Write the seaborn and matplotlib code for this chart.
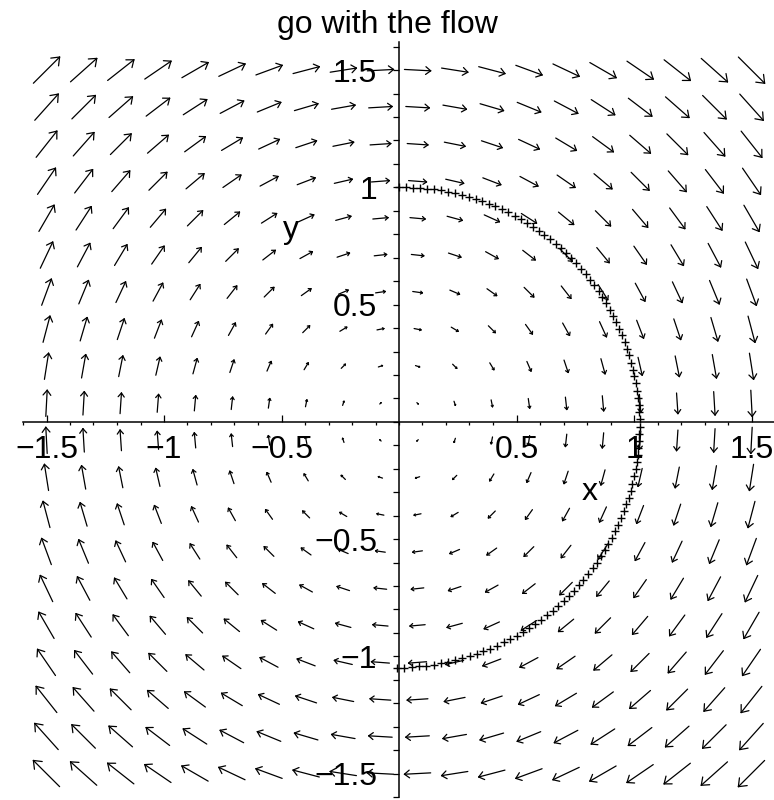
import numpy as np
import matplotlib
matplotlib.use("Agg")
import matplotlib.pyplot as plt
from matplotlib.collections import LineCollection
from matplotlib.ticker import FixedLocator, MultipleLocator
import seaborn as sns

sns.set_theme(style="white")
plt.rcParams["font.family"] = ["Liberation Sans", "DejaVu Sans"]
plt.rcParams["axes.unicode_minus"] = True

# sample points of the direction field (same spacing on both axes)
grid_x = [-1.5, -1.342, -1.184, -1.026, -0.868, -0.711, -0.553, -0.395, -0.237, -0.079,
          0.079, 0.237, 0.395, 0.553, 0.711, 0.868, 1.026, 1.184, 1.342, 1.5]
grid_y = [-1.5, -1.342, -1.184, -1.026, -0.868, -0.711, -0.553, -0.395, -0.237, -0.079,
          0.079, 0.237, 0.395, 0.553, 0.711, 0.868, 1.026, 1.184, 1.342, 1.5]

# horizontal component for each row, vertical component for each column
field_u_rows = [-1.5, -1.342, -1.184, -1.026, -0.868, -0.711, -0.553, -0.395, -0.237, -0.079,
                0.079, 0.237, 0.395, 0.553, 0.711, 0.868, 1.026, 1.184, 1.342, 1.5]
field_v_cols = [1.5, 1.342, 1.184, 1.026, 0.868, 0.711, 0.553, 0.395, 0.237, 0.079,
                -0.079, -0.237, -0.395, -0.553, -0.711, -0.868, -1.026, -1.184, -1.342, -1.5]

# solution points of the trajectory starting at (0, 1)
traj_x = [0.000, 0.030, 0.060, 0.090, 0.120, 0.150, 0.180, 0.209, 0.239, 0.268,
          0.297, 0.326, 0.354, 0.382, 0.410, 0.438, 0.465, 0.492, 0.518, 0.544,
          0.570, 0.595, 0.619, 0.643, 0.667, 0.689, 0.712, 0.733, 0.754, 0.774,
          0.794, 0.813, 0.831, 0.849, 0.865, 0.881, 0.896, 0.911, 0.924, 0.937,
          0.949, 0.960, 0.970, 0.980, 0.988, 0.996, 1.002, 1.008, 1.013, 1.017,
          1.020, 1.022, 1.024, 1.024, 1.023, 1.022, 1.019, 1.016, 1.012, 1.007,
          1.000, 0.993, 0.986, 0.977, 0.967, 0.957, 0.945, 0.933, 0.920, 0.906,
          0.891, 0.875, 0.859, 0.842, 0.824, 0.805, 0.785, 0.765, 0.744, 0.723,
          0.700, 0.677, 0.654, 0.630, 0.605, 0.579, 0.554, 0.527, 0.500, 0.473,
          0.445, 0.417, 0.388, 0.359, 0.330, 0.300, 0.270, 0.240, 0.209, 0.179,
          0.148, 0.117, 0.085, 0.054, 0.023, -0.008]
traj_y = [1.000, 1.000, 0.999, 0.997, 0.995, 0.991, 0.987, 0.981, 0.975, 0.968,
          0.960, 0.951, 0.941, 0.930, 0.919, 0.907, 0.893, 0.879, 0.865, 0.849,
          0.833, 0.816, 0.798, 0.779, 0.760, 0.740, 0.719, 0.698, 0.676, 0.653,
          0.630, 0.606, 0.582, 0.557, 0.531, 0.505, 0.479, 0.452, 0.425, 0.397,
          0.369, 0.340, 0.312, 0.283, 0.253, 0.223, 0.194, 0.164, 0.133, 0.103,
          0.072, 0.042, 0.011, -0.020, -0.050, -0.081, -0.112, -0.142, -0.173, -0.203,
          -0.233, -0.263, -0.293, -0.323, -0.352, -0.381, -0.410, -0.438, -0.466, -0.494,
          -0.521, -0.548, -0.574, -0.600, -0.625, -0.650, -0.674, -0.697, -0.720, -0.743,
          -0.764, -0.785, -0.806, -0.825, -0.844, -0.862, -0.880, -0.896, -0.912, -0.927,
          -0.941, -0.955, -0.967, -0.979, -0.990, -1.000, -1.009, -1.017, -1.024, -1.030,
          -1.036, -1.040, -1.043, -1.046, -1.048, -1.048]

tick_vals = [-1.5, -1.0, -0.5, 0.5, 1.0, 1.5]
tick_labels = ["\u22121.5", "\u22121", "\u22120.5", "0.5", "1", "1.5"]

FS = 23

fig = plt.figure(figsize=(7.74, 8.0), dpi=100)
ax = fig.add_axes([23 / 774, 3 / 800, 752 / 774, 755 / 800])
ax.set_xlim(-1.6, 1.6)
ax.set_ylim(-1.6, 1.62)

# direction field: thin centred arrows with open two-barb heads
gx, gy = np.meshgrid(np.array(grid_x), np.array(grid_y))
u = np.repeat(np.array(field_u_rows)[:, None], len(grid_x), axis=1)
v = np.repeat(np.array(field_v_cols)[None, :], len(grid_y), axis=0)

scale = 0.0745
hx, hy = 0.5 * scale * u, 0.5 * scale * v
tail = np.stack([gx - hx, gy - hy], -1).reshape(-1, 2)
tip = np.stack([gx + hx, gy + hy], -1).reshape(-1, 2)
back = -(tip - tail) * 0.24
ang = np.deg2rad(38)
c, s = np.cos(ang), np.sin(ang)
barb1 = np.stack([back[:, 0] * c - back[:, 1] * s, back[:, 0] * s + back[:, 1] * c], -1)
barb2 = np.stack([back[:, 0] * c + back[:, 1] * s, -back[:, 0] * s + back[:, 1] * c], -1)
segs = np.concatenate([
    np.stack([tail, tip], 1),
    np.stack([tip, tip + barb1], 1),
    np.stack([tip, tip + barb2], 1),
])
ax.add_collection(LineCollection(segs, colors="black", linewidths=0.9,
                                 capstyle="round", zorder=2))

# trajectory points
sns.scatterplot(x=traj_x, y=traj_y, marker="+", s=38, color="black",
                linewidth=1.0, ax=ax, zorder=3, legend=False)

# axes through the origin
for side in ("top", "right"):
    ax.spines[side].set_visible(False)
for side in ("left", "bottom"):
    ax.spines[side].set_position(("data", 0))
    ax.spines[side].set_color("black")
    ax.spines[side].set_linewidth(1.1)
    ax.spines[side].set_zorder(1)

ax.xaxis.set_major_locator(FixedLocator(tick_vals))
ax.xaxis.set_minor_locator(MultipleLocator(0.1))
ax.yaxis.set_major_locator(FixedLocator(tick_vals))
ax.yaxis.set_minor_locator(MultipleLocator(0.1))
ax.set_xticklabels(tick_labels)
ax.set_yticklabels(tick_labels)

ax.tick_params(axis="both", which="both", bottom=True, left=True, colors="black",
               width=0.9)
ax.tick_params(axis="x", which="major", direction="in", length=5, pad=9.4, labelsize=FS)
ax.tick_params(axis="x", which="minor", direction="out", length=2.5)
ax.tick_params(axis="y", which="both", direction="out", length=4.5)
ax.tick_params(axis="y", which="major", pad=11.2, labelsize=FS)

ax.set_xlabel("x", fontsize=FS, color="black")
ax.xaxis.set_label_coords(0.811, -0.334, transform=ax.transData)
ax.xaxis.label.set_verticalalignment("baseline")
ax.set_ylabel("y", fontsize=FS, rotation=0, color="black")
ax.yaxis.set_label_coords(-0.461, 0.783, transform=ax.transData)
ax.yaxis.label.set_horizontalalignment("center")
ax.yaxis.label.set_verticalalignment("baseline")

ax.set_title("go with the flow", fontsize=FS, x=0.484, pad=6.3, color="black")
ax.grid(False)

fig.savefig("out.png", dpi=100)
